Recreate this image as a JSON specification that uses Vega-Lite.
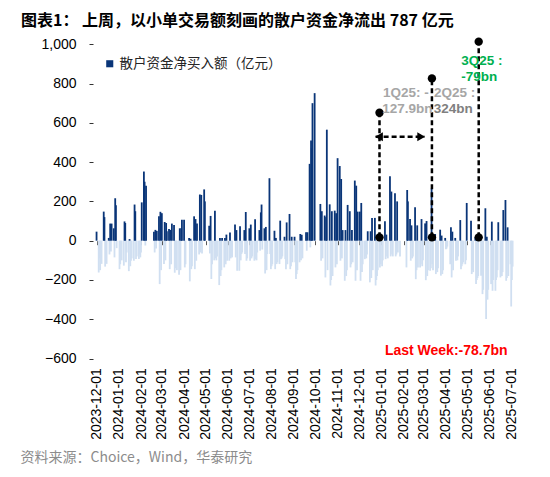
{
  "$schema": "https://vega.github.io/schema/vega-lite/v6.json",
  "width": 519,
  "height": 412,
  "autosize": "none",
  "padding": {"left": 18, "top": 34, "right": 13, "bottom": 31},
  "background": "#ffffff",
  "config": {"view": {"stroke": null}},
  "title": {
    "text": "图表1： 上周，以小单交易额刻画的散户资金净流出 787 亿元",
    "anchor": "start",
    "font": "Noto Sans CJK SC",
    "fontSize": 16,
    "fontWeight": "bold",
    "color": "#000000",
    "offset": 5,
    "dx": 3
  },
  "datasets": {
    "flow": [
      {"d":"2023-12-01","v":46},
      {"d":"2023-12-04","v":-162},{"d":"2023-12-05","v":-90},{"d":"2023-12-06","v":-150},{"d":"2023-12-07","v":-60},{"d":"2023-12-08","v":-118},
      {"d":"2023-12-11","v":148},{"d":"2023-12-12","v":120},{"d":"2023-12-13","v":-132},{"d":"2023-12-14","v":-100},{"d":"2023-12-15","v":-118},
      {"d":"2023-12-18","v":14},{"d":"2023-12-19","v":-70},{"d":"2023-12-20","v":87},{"d":"2023-12-21","v":-55},{"d":"2023-12-22","v":87},
      {"d":"2023-12-25","v":63},{"d":"2023-12-26","v":-85},{"d":"2023-12-27","v":216},{"d":"2023-12-28","v":180},{"d":"2023-12-29","v":-38},
      {"d":"2024-01-02","v":-145},{"d":"2024-01-03","v":-120},{"d":"2024-01-04","v":-38},{"d":"2024-01-05","v":-100},
      {"d":"2024-01-08","v":-127},{"d":"2024-01-09","v":98},{"d":"2024-01-10","v":90},{"d":"2024-01-11","v":-110},{"d":"2024-01-12","v":-60},
      {"d":"2024-01-15","v":-155},{"d":"2024-01-16","v":8},{"d":"2024-01-17","v":-130},{"d":"2024-01-18","v":-102},{"d":"2024-01-19","v":-90},
      {"d":"2024-01-22","v":-102},{"d":"2024-01-23","v":184},{"d":"2024-01-24","v":150},{"d":"2024-01-25","v":-93},{"d":"2024-01-26","v":-80},
      {"d":"2024-01-29","v":-93},{"d":"2024-01-30","v":-70},{"d":"2024-01-31","v":-85},{"d":"2024-02-01","v":-60},{"d":"2024-02-02","v":195},
      {"d":"2024-02-05","v":352},{"d":"2024-02-06","v":300},{"d":"2024-02-07","v":-25},{"d":"2024-02-08","v":280},
      {"d":"2024-02-19","v":46},{"d":"2024-02-20","v":-60},{"d":"2024-02-21","v":55},{"d":"2024-02-22","v":-40},{"d":"2024-02-23","v":50},
      {"d":"2024-02-26","v":124},{"d":"2024-02-27","v":-221},{"d":"2024-02-28","v":147},{"d":"2024-02-29","v":-150},{"d":"2024-03-01","v":140},
      {"d":"2024-03-04","v":-119},{"d":"2024-03-05","v":95},{"d":"2024-03-06","v":-100},{"d":"2024-03-07","v":90},{"d":"2024-03-08","v":48},
      {"d":"2024-03-11","v":60},{"d":"2024-03-12","v":-145},{"d":"2024-03-13","v":55},{"d":"2024-03-14","v":-120},{"d":"2024-03-15","v":87},
      {"d":"2024-03-18","v":80},{"d":"2024-03-19","v":-163},{"d":"2024-03-20","v":-140},{"d":"2024-03-21","v":-120},{"d":"2024-03-22","v":-150},
      {"d":"2024-03-25","v":-173},{"d":"2024-03-26","v":63},{"d":"2024-03-27","v":-150},{"d":"2024-03-28","v":63},{"d":"2024-03-29","v":107},
      {"d":"2024-04-01","v":107},{"d":"2024-04-02","v":-136},{"d":"2024-04-03","v":-120},
      {"d":"2024-04-08","v":14},{"d":"2024-04-09","v":-207},{"d":"2024-04-10","v":10},{"d":"2024-04-11","v":-145},{"d":"2024-04-12","v":-130},
      {"d":"2024-04-15","v":124},{"d":"2024-04-16","v":-145},{"d":"2024-04-17","v":110},{"d":"2024-04-18","v":-102},{"d":"2024-04-19","v":87},
      {"d":"2024-04-22","v":-70},{"d":"2024-04-23","v":235},{"d":"2024-04-24","v":-60},{"d":"2024-04-25","v":233},{"d":"2024-04-26","v":-65},
      {"d":"2024-04-29","v":261},{"d":"2024-04-30","v":200},
      {"d":"2024-05-06","v":76},{"d":"2024-05-07","v":-65},{"d":"2024-05-08","v":126},{"d":"2024-05-09","v":-195},{"d":"2024-05-10","v":-120},
      {"d":"2024-05-13","v":-100},{"d":"2024-05-14","v":152},{"d":"2024-05-15","v":-90},{"d":"2024-05-16","v":-100},{"d":"2024-05-17","v":-80},
      {"d":"2024-05-20","v":-226},{"d":"2024-05-21","v":14},{"d":"2024-05-22","v":-180},{"d":"2024-05-23","v":-150},{"d":"2024-05-24","v":14},
      {"d":"2024-05-27","v":-136},{"d":"2024-05-28","v":14},{"d":"2024-05-29","v":-120},{"d":"2024-05-30","v":31},{"d":"2024-05-31","v":-102},
      {"d":"2024-06-03","v":-102},{"d":"2024-06-04","v":42},{"d":"2024-06-05","v":-90},{"d":"2024-06-06","v":-80},{"d":"2024-06-07","v":-85},
      {"d":"2024-06-11","v":82},{"d":"2024-06-12","v":-85},{"d":"2024-06-13","v":54},{"d":"2024-06-14","v":-153},
      {"d":"2024-06-17","v":-153},{"d":"2024-06-18","v":73},{"d":"2024-06-19","v":-100},{"d":"2024-06-20","v":-68},{"d":"2024-06-21","v":-60},
      {"d":"2024-06-24","v":54},{"d":"2024-06-25","v":-68},{"d":"2024-06-26","v":146},{"d":"2024-06-27","v":-102},{"d":"2024-06-28","v":-90},
      {"d":"2024-07-01","v":63},{"d":"2024-07-02","v":-102},{"d":"2024-07-03","v":82},{"d":"2024-07-04","v":-90},{"d":"2024-07-05","v":-80},
      {"d":"2024-07-08","v":-102},{"d":"2024-07-09","v":109},{"d":"2024-07-10","v":-95},{"d":"2024-07-11","v":-100},{"d":"2024-07-12","v":-60},
      {"d":"2024-07-15","v":54},{"d":"2024-07-16","v":-51},{"d":"2024-07-17","v":144},{"d":"2024-07-18","v":184},{"d":"2024-07-19","v":-45},
      {"d":"2024-07-22","v":63},{"d":"2024-07-23","v":-167},{"d":"2024-07-24","v":70},{"d":"2024-07-25","v":-150},{"d":"2024-07-26","v":-68},
      {"d":"2024-07-29","v":318},{"d":"2024-07-30","v":-68},{"d":"2024-07-31","v":-145},{"d":"2024-08-01","v":-130},{"d":"2024-08-02","v":-120},
      {"d":"2024-08-05","v":51},{"d":"2024-08-06","v":-145},{"d":"2024-08-07","v":14},{"d":"2024-08-08","v":-119},{"d":"2024-08-09","v":-110},
      {"d":"2024-08-12","v":-119},{"d":"2024-08-13","v":102},{"d":"2024-08-14","v":-94},{"d":"2024-08-15","v":-90},{"d":"2024-08-16","v":-80},
      {"d":"2024-08-19","v":20},{"d":"2024-08-20","v":-94},{"d":"2024-08-21","v":-145},{"d":"2024-08-22","v":93},{"d":"2024-08-23","v":-120},
      {"d":"2024-08-26","v":136},{"d":"2024-08-27","v":-145},{"d":"2024-08-28","v":-130},{"d":"2024-08-29","v":20},{"d":"2024-08-30","v":-110},
      {"d":"2024-09-02","v":20},{"d":"2024-09-03","v":-110},{"d":"2024-09-04","v":-195},{"d":"2024-09-05","v":-170},{"d":"2024-09-06","v":-150},
      {"d":"2024-09-09","v":-110},{"d":"2024-09-10","v":34},{"d":"2024-09-11","v":-100},{"d":"2024-09-12","v":30},{"d":"2024-09-13","v":-90},
      {"d":"2024-09-18","v":43},{"d":"2024-09-19","v":-51},{"d":"2024-09-20","v":43},
      {"d":"2024-09-23","v":391},{"d":"2024-09-24","v":-34},{"d":"2024-09-25","v":510},{"d":"2024-09-26","v":470},{"d":"2024-09-27","v":700},
      {"d":"2024-09-30","v":751},
      {"d":"2024-10-08","v":187},{"d":"2024-10-09","v":-102},{"d":"2024-10-10","v":150},{"d":"2024-10-11","v":-90},
      {"d":"2024-10-14","v":128},{"d":"2024-10-15","v":-187},{"d":"2024-10-16","v":120},{"d":"2024-10-17","v":565},{"d":"2024-10-18","v":-150},
      {"d":"2024-10-21","v":185},{"d":"2024-10-22","v":-228},{"d":"2024-10-23","v":-200},{"d":"2024-10-24","v":150},{"d":"2024-10-25","v":-180},
      {"d":"2024-10-28","v":153},{"d":"2024-10-29","v":-136},{"d":"2024-10-30","v":140},{"d":"2024-10-31","v":-120},{"d":"2024-11-01","v":420},
      {"d":"2024-11-04","v":380},{"d":"2024-11-05","v":-102},{"d":"2024-11-06","v":314},{"d":"2024-11-07","v":-90},{"d":"2024-11-08","v":54},
      {"d":"2024-11-11","v":-204},{"d":"2024-11-12","v":54},{"d":"2024-11-13","v":-180},{"d":"2024-11-14","v":-150},{"d":"2024-11-15","v":182},
      {"d":"2024-11-18","v":150},{"d":"2024-11-19","v":-136},{"d":"2024-11-20","v":-120},{"d":"2024-11-21","v":54},{"d":"2024-11-22","v":-110},
      {"d":"2024-11-25","v":306},{"d":"2024-11-26","v":-204},{"d":"2024-11-27","v":280},{"d":"2024-11-28","v":-150},{"d":"2024-11-29","v":148},
      {"d":"2024-12-02","v":148},{"d":"2024-12-03","v":-204},{"d":"2024-12-04","v":192},{"d":"2024-12-05","v":-160},{"d":"2024-12-06","v":-120},
      {"d":"2024-12-09","v":-94},{"d":"2024-12-10","v":-80},{"d":"2024-12-11","v":-90},{"d":"2024-12-12","v":-70},{"d":"2024-12-13","v":48},
      {"d":"2024-12-16","v":-212},{"d":"2024-12-17","v":48},{"d":"2024-12-18","v":-190},{"d":"2024-12-19","v":116},{"d":"2024-12-20","v":-150},
      {"d":"2024-12-23","v":116},{"d":"2024-12-24","v":-228},{"d":"2024-12-25","v":-200},{"d":"2024-12-26","v":-180},{"d":"2024-12-27","v":-150},
      {"d":"2024-12-30","v":-136},{"d":"2024-12-31","v":-120},{"d":"2025-01-02","v":-130},{"d":"2025-01-03","v":-100},
      {"d":"2025-01-06","v":99},{"d":"2025-01-07","v":-94},{"d":"2025-01-08","v":31},{"d":"2025-01-09","v":-80},{"d":"2025-01-10","v":-90},
      {"d":"2025-01-13","v":328},{"d":"2025-01-14","v":-80},{"d":"2025-01-15","v":250},{"d":"2025-01-16","v":-70},{"d":"2025-01-17","v":-80},
      {"d":"2025-01-20","v":241},{"d":"2025-01-21","v":-80},{"d":"2025-01-22","v":-70},{"d":"2025-01-23","v":200},{"d":"2025-01-24","v":-60},
      {"d":"2025-01-27","v":-80},
      {"d":"2025-02-05","v":-136},{"d":"2025-02-06","v":258},{"d":"2025-02-07","v":200},
      {"d":"2025-02-10","v":110},{"d":"2025-02-11","v":-102},{"d":"2025-02-12","v":78},{"d":"2025-02-13","v":-90},{"d":"2025-02-14","v":-80},
      {"d":"2025-02-17","v":170},{"d":"2025-02-18","v":-196},{"d":"2025-02-19","v":-150},{"d":"2025-02-20","v":78},{"d":"2025-02-21","v":-136},
      {"d":"2025-02-24","v":-136},{"d":"2025-02-25","v":-120},{"d":"2025-02-26","v":110},{"d":"2025-02-27","v":-130},{"d":"2025-02-28","v":-100},
      {"d":"2025-03-03","v":88},{"d":"2025-03-04","v":-201},{"d":"2025-03-05","v":100},{"d":"2025-03-06","v":-180},{"d":"2025-03-07","v":-150},
      {"d":"2025-03-10","v":-153},{"d":"2025-03-11","v":-140},{"d":"2025-03-12","v":265},{"d":"2025-03-13","v":-120},{"d":"2025-03-14","v":-150},
      {"d":"2025-03-17","v":34},{"d":"2025-03-18","v":-170},{"d":"2025-03-19","v":-150},{"d":"2025-03-20","v":-160},{"d":"2025-03-21","v":-140},
      {"d":"2025-03-24","v":56},{"d":"2025-03-25","v":-178},{"d":"2025-03-26","v":26},{"d":"2025-03-27","v":-170},{"d":"2025-03-28","v":-150},
      {"d":"2025-03-31","v":14},{"d":"2025-04-01","v":-43},{"d":"2025-04-02","v":-40},{"d":"2025-04-03","v":-30},
      {"d":"2025-04-07","v":-120},{"d":"2025-04-08","v":68},{"d":"2025-04-09","v":-187},{"d":"2025-04-10","v":46},{"d":"2025-04-11","v":-150},
      {"d":"2025-04-14","v":14},{"d":"2025-04-15","v":-102},{"d":"2025-04-16","v":-90},{"d":"2025-04-17","v":-100},{"d":"2025-04-18","v":-80},
      {"d":"2025-04-21","v":105},{"d":"2025-04-22","v":-145},{"d":"2025-04-23","v":-130},{"d":"2025-04-24","v":-120},{"d":"2025-04-25","v":-110},
      {"d":"2025-04-28","v":-120},{"d":"2025-04-29","v":-100},{"d":"2025-04-30","v":192},
      {"d":"2025-05-06","v":102},{"d":"2025-05-07","v":-170},{"d":"2025-05-08","v":-150},{"d":"2025-05-09","v":-160},
      {"d":"2025-05-12","v":17},{"d":"2025-05-13","v":-221},{"d":"2025-05-14","v":-200},{"d":"2025-05-15","v":-190},{"d":"2025-05-16","v":-180},
      {"d":"2025-05-19","v":14},{"d":"2025-05-20","v":-178},{"d":"2025-05-21","v":-160},{"d":"2025-05-22","v":-272},{"d":"2025-05-23","v":-250},
      {"d":"2025-05-26","v":165},{"d":"2025-05-27","v":-399},{"d":"2025-05-28","v":20},{"d":"2025-05-29","v":-300},{"d":"2025-05-30","v":-250},
      {"d":"2025-06-03","v":-221},{"d":"2025-06-04","v":97},{"d":"2025-06-05","v":-255},{"d":"2025-06-06","v":-200},
      {"d":"2025-06-09","v":-255},{"d":"2025-06-10","v":-200},{"d":"2025-06-11","v":-187},{"d":"2025-06-12","v":-150},{"d":"2025-06-13","v":94},
      {"d":"2025-06-16","v":-187},{"d":"2025-06-17","v":-150},{"d":"2025-06-18","v":-180},{"d":"2025-06-19","v":-160},{"d":"2025-06-20","v":156},
      {"d":"2025-06-23","v":207},{"d":"2025-06-24","v":-204},{"d":"2025-06-25","v":-190},{"d":"2025-06-26","v":68},{"d":"2025-06-27","v":-180},
      {"d":"2025-06-30","v":-120},{"d":"2025-07-01","v":-335},{"d":"2025-07-02","v":-200},{"d":"2025-07-03","v":-132}
    ],
    "vlines": [
      {"d":"2024-12-29T10:00:00Z","v":17,"v2":651},
      {"d":"2025-03-12T12:00:00Z","v":17,"v2":826},
      {"d":"2025-05-16T17:00:00Z","v":17,"v2":1013}
    ],
    "dots": [
      {"d":"2024-12-29T10:00:00Z","v":17},{"d":"2024-12-29T10:00:00Z","v":651},
      {"d":"2025-03-12T12:00:00Z","v":17},{"d":"2025-03-12T12:00:00Z","v":826},
      {"d":"2025-05-16T17:00:00Z","v":17},{"d":"2025-05-16T17:00:00Z","v":1013}
    ]
  },
  "encoding": {
    "x": {
      "field": "d",
      "type": "temporal",
      "scale": {
        "type": "utc",
        "domain": [
          {"year": 2023, "month": 8, "date": 20, "hours": 11, "minutes": 17, "utc": true},
          {"year": 2025, "month": 7, "date": 30, "utc": true}
        ]
      },
      "axis": {
        "values": [
          {"year": 2023, "month": 12, "date": 1, "utc": true},
          {"year": 2024, "month": 1, "date": 1, "utc": true},
          {"year": 2024, "month": 2, "date": 1, "utc": true},
          {"year": 2024, "month": 3, "date": 1, "utc": true},
          {"year": 2024, "month": 4, "date": 1, "utc": true},
          {"year": 2024, "month": 5, "date": 1, "utc": true},
          {"year": 2024, "month": 6, "date": 1, "utc": true},
          {"year": 2024, "month": 7, "date": 1, "utc": true},
          {"year": 2024, "month": 8, "date": 1, "utc": true},
          {"year": 2024, "month": 9, "date": 1, "utc": true},
          {"year": 2024, "month": 10, "date": 1, "utc": true},
          {"year": 2024, "month": 11, "date": 1, "utc": true},
          {"year": 2024, "month": 12, "date": 1, "utc": true},
          {"year": 2025, "month": 1, "date": 1, "utc": true},
          {"year": 2025, "month": 2, "date": 1, "utc": true},
          {"year": 2025, "month": 3, "date": 1, "utc": true},
          {"year": 2025, "month": 4, "date": 1, "utc": true},
          {"year": 2025, "month": 5, "date": 1, "utc": true},
          {"year": 2025, "month": 6, "date": 1, "utc": true},
          {"year": 2025, "month": 7, "date": 1, "utc": true}
        ],
        "format": "%Y-%m-%d",
        "labelAngle": 270,
        "labelFont": "Liberation Sans",
        "labelFontSize": 14,
        "labelColor": "#000000",
        "labelPadding": 123,
        "labelOverlap": false,
        "labelFlush": false,
        "tickSize": 4,
        "tickColor": "#595959",
        "domain": false,
        "grid": false,
        "offset": -205.3,
        "title": "资料来源：Choice，Wind，华泰研究",
        "titleFont": "Noto Sans CJK SC",
        "titleFontSize": 14,
        "titleFontWeight": "normal",
        "titleColor": "#8c8c8c",
        "titleAlign": "left",
        "titleBaseline": "middle",
        "titleX": 2,
        "titleY": 217
      }
    },
    "y": {
      "field": "v",
      "type": "quantitative",
      "scale": {"domain": [-1045, 1052], "nice": false, "zero": false},
      "axis": {
        "values": [-600, -400, -200, 0, 200, 400, 600, 800, 1000],
        "format": ",d",
        "labelFont": "Liberation Sans",
        "labelFontSize": 14,
        "labelColor": "#000000",
        "labelPadding": 13,
        "tickSize": 4,
        "tickColor": "#333333",
        "domain": false,
        "grid": false,
        "offset": -75,
        "title": null
      }
    }
  },
  "layer": [
    {
      "data": {"name": "flow"},
      "transform": [{"filter": "datum.v < 0"}],
      "mark": {"type": "bar", "width": 1.8, "color": "#d0dff1"},
      "encoding": {"y2": {"datum": 0}}
    },
    {
      "data": {"name": "flow"},
      "transform": [{"filter": "datum.v >= 0"}],
      "mark": {"type": "bar", "width": 1.8},
      "encoding": {
        "y2": {"datum": 0},
        "color": {
          "datum": "散户资金净买入额（亿元）",
          "type": "nominal",
          "scale": {"range": ["#0a3578"]},
          "legend": {
            "title": null,
            "orient": "none",
            "legendX": 85,
            "legendY": 23,
            "padding": 0,
            "symbolType": "square",
            "symbolSize": 50,
            "symbolStrokeWidth": 0,
            "labelFont": "Noto Sans CJK SC",
            "labelFontSize": 13.5,
            "labelColor": "#262626",
            "labelOffset": 3,
            "labelLimit": 400
          }
        }
      }
    },
    {
      "mark": {"type": "rule", "color": "#595959", "strokeWidth": 1},
      "encoding": {
        "x": {"datum": {"year": 2023, "month": 12, "date": 1, "utc": true}},
        "x2": {"datum": {"year": 2025, "month": 7, "date": 4, "utc": true}},
        "y": {"datum": 0}
      }
    },
    {
      "mark": {"type": "rule", "color": "#333333", "strokeWidth": 1},
      "encoding": {
        "x": {"datum": {"year": 2023, "month": 12, "date": 1, "utc": true}},
        "y": {"datum": -600},
        "y2": {"datum": 1000}
      }
    },
    {
      "mark": {"type": "rule", "color": "#93adce", "strokeWidth": 2},
      "encoding": {
        "x": {"datum": {"year": 2023, "month": 8, "date": 20, "hours": 11, "minutes": 17, "utc": true}},
        "x2": {"datum": {"year": 2025, "month": 7, "date": 30, "utc": true}},
        "y": {"datum": 1052}
      }
    },
    {
      "mark": {"type": "rule", "color": "#93adce", "strokeWidth": 2},
      "encoding": {
        "x": {"datum": {"year": 2023, "month": 8, "date": 20, "hours": 11, "minutes": 17, "utc": true}},
        "x2": {"datum": {"year": 2025, "month": 7, "date": 30, "utc": true}},
        "y": {"datum": -1045}
      }
    },
    {
      "data": {"name": "vlines"},
      "mark": {"type": "rule", "color": "#000000", "strokeWidth": 2.5, "strokeDash": [5, 3]},
      "encoding": {"y2": {"field": "v2"}}
    },
    {
      "data": {"values": [{"d": "2024-12-24T00:00:00Z", "d2": "2025-03-02T00:00:00Z", "v": 529}]},
      "mark": {"type": "rule", "color": "#000000", "strokeWidth": 2.5, "strokeDash": [5, 3]},
      "encoding": {"x2": {"field": "d2"}}
    },
    {
      "data": {"values": [{"d": "2024-12-28T17:00:00Z", "v": 529}]},
      "mark": {"type": "point", "shape": "triangle-left", "filled": true, "color": "#000000", "size": 80, "opacity": 1}
    },
    {
      "data": {"values": [{"d": "2025-02-25T12:00:00Z", "v": 529}]},
      "mark": {"type": "point", "shape": "triangle-right", "filled": true, "color": "#000000", "size": 80, "opacity": 1}
    },
    {
      "data": {"name": "dots"},
      "mark": {"type": "point", "filled": true, "color": "#000000", "size": 70, "opacity": 1}
    },
    {
      "data": {"values": [
        {"d": "2025-01-03T05:00:00Z", "v": 753, "t": "1Q25: -"},
        {"d": "2025-01-02T05:00:00Z", "v": 669, "t": "127.9bn"},
        {"d": "2025-03-15T07:00:00Z", "v": 753, "t": "2Q25 :"}
      ]},
      "mark": {"type": "text", "align": "left", "baseline": "middle", "font": "Liberation Sans", "fontSize": 13.5, "fontWeight": "bold", "color": "#a6a6a6"},
      "encoding": {"text": {"field": "t", "type": "nominal"}}
    },
    {
      "data": {"values": [{"d": "2025-03-14T22:00:00Z", "v": 669, "t": "324bn"}]},
      "mark": {"type": "text", "align": "left", "baseline": "middle", "font": "Liberation Sans", "fontSize": 13.5, "fontWeight": "bold", "color": "#808080"},
      "encoding": {"text": {"field": "t", "type": "nominal"}}
    },
    {
      "data": {"values": [
        {"d": "2025-04-22T12:00:00Z", "v": 916, "t": "3Q25 :"},
        {"d": "2025-04-22T12:00:00Z", "v": 835, "t": "-79bn"}
      ]},
      "mark": {"type": "text", "align": "left", "baseline": "middle", "font": "Liberation Sans", "fontSize": 13.5, "fontWeight": "bold", "color": "#00b050"},
      "encoding": {"text": {"field": "t", "type": "nominal"}}
    },
    {
      "data": {"values": [{"d": "2025-04-01T10:00:00Z", "v": -561, "t": "Last Week:-78.7bn"}]},
      "mark": {"type": "text", "align": "center", "baseline": "middle", "font": "Liberation Sans", "fontSize": 14, "fontWeight": "bold", "color": "#ff0000"},
      "encoding": {"text": {"field": "t", "type": "nominal"}}
    }
  ]
}
